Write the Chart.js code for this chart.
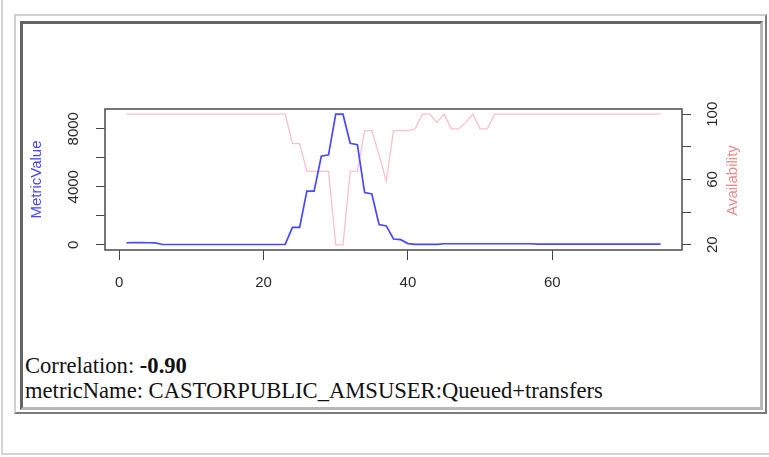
<!DOCTYPE html>
<html>
<head>
<meta charset="utf-8">
<script src="https://cdn.jsdelivr.net/npm/chart.js@4"></script>
<style>
  body { margin: 0; background: #fff; width: 769px; height: 457px; overflow: hidden; position: relative; }
  #frame { position: absolute; left: 1px; top: -6px; width: 800px; height: 461px; border: 2px solid #d4d4d4; box-sizing: border-box; }
  #tbl { position: absolute; left: 14px; top: 14px; width: 753px; height: 400px; border: 2px outset #d0d0d0; box-sizing: border-box; }
  #cell { position: absolute; left: 20px; top: 21px; width: 743px; height: 389px; border: 3px inset #b8b8b8; box-sizing: border-box; }
  #cv { position: absolute; left: 0; top: 0; }
  #info { position: absolute; left: 25px; top: 353px; font-family: "Liberation Serif", "Times New Roman", serif; font-size: 22.6px; line-height: 25px; color: #111; white-space: nowrap; }
</style>
</head>
<body>
<div id="frame"></div>
<div id="tbl"></div>
<div id="cell"></div>
<canvas id="cv" width="769" height="340"></canvas>
<div id="info">Correlation: <b>-0.90</b><br>metricName: CASTORPUBLIC_AMSUSER:Queued+transfers</div>
<script>
window.onload = inicializar;

// datos
var indices = [1,2,3,4,5,6,7,8,9,10,11,12,13,14,15,16,17,18,19,20,21,22,23,24,25,
  26,27,28,29,30,31,32,33,34,35,36,37,38,39,40,41,42,43,44,45,46,47,48,49,50,
  51,52,53,54,55,56,57,58,59,60,61,62,63,64,65,66,67,68,69,70,71,72,73,74,75];
var metricValue = [140,150,150,140,130,20,20,20,20,20,20,20,20,20,20,20,20,20,20,20,20,20,30,1200,1200,
  3700,3700,6100,6200,9000,9000,7000,6900,3600,3500,1400,1300,400,350,80,30,30,30,30,70,70,70,70,70,70,
  70,70,70,70,70,70,70,40,40,40,40,40,40,40,40,40,40,40,40,40,40,40,40,40,40];
var availability = [100,100,100,100,100,100,100,100,100,100,100,100,100,100,100,100,100,100,100,100,100,100,100,82,82,
  65,65,65,65,20,20,65,65,90,90,75,59,90,90,90,91,100,100,95,100,91,91,95,100,91,
  91,100,100,100,100,100,100,100,100,100,100,100,100,100,100,100,100,100,100,100,100,100,100,100,100];
var xTicks = [0, 20, 40, 60];
var metricTicks = [0, 2000, 4000, 6000, 8000];
var metricLabels = [0, 4000, 8000];
var availTicks = [20, 40, 60, 80, 100];
var availLabels = [20, 60, 100];

function inicializar() {
  var puntosMetric = indices.map(function (x, i) { return {x: x, y: metricValue[i]}; });
  var puntosAvail = indices.map(function (x, i) { return {x: x, y: availability[i]}; });

  var fijarTicks = function (lista) {
    return function (scale) { scale.ticks = lista.map(function (v) { return {value: v}; }); };
  };

  // textos de los ejes y caja, estilo R
  var textosR = {
    id: 'textosR',
    afterDraw: function (chart) {
      var ctx = chart.ctx, area = chart.chartArea;
      var yl = chart.scales.yMetric, yr = chart.scales.yAvail;
      ctx.save();
      ctx.strokeStyle = '#555';
      ctx.lineWidth = 1.6;
      ctx.strokeRect(area.left, area.top, area.right - area.left, area.bottom - area.top);

      ctx.textAlign = 'center';
      ctx.textBaseline = 'middle';
      ctx.font = '15px "Liberation Sans", Arial, sans-serif';
      ctx.fillStyle = '#2a2a2a';
      metricLabels.forEach(function (v) {
        ctx.save();
        ctx.translate(area.left - 31, yl.getPixelForValue(v));
        ctx.rotate(-Math.PI / 2);
        ctx.fillText(String(v), 0, 0);
        ctx.restore();
      });
      availLabels.forEach(function (v) {
        ctx.save();
        ctx.translate(area.right + 31, yr.getPixelForValue(v));
        ctx.rotate(-Math.PI / 2);
        ctx.fillText(String(v), 0, 0);
        ctx.restore();
      });
      var medio = (area.top + area.bottom) / 2;
      ctx.font = '15px "Liberation Sans", Arial, sans-serif';
      ctx.fillStyle = '#4646ff';
      ctx.save();
      ctx.translate(area.left - 68, medio);
      ctx.rotate(-Math.PI / 2);
      ctx.fillText('MetricValue', 0, 0);
      ctx.restore();
      ctx.fillStyle = '#f08a8a';
      ctx.save();
      ctx.translate(area.right + 51, medio + 1);
      ctx.rotate(-Math.PI / 2);
      ctx.fillText('Availability', 0, 0);
      ctx.restore();
      ctx.restore();
    }
  };

  new Chart(document.getElementById('cv'), {
    type: 'line',
    data: {
      datasets: [
        {
          label: 'MetricValue',
          data: puntosMetric,
          yAxisID: 'yMetric',
          borderColor: '#4848ff',
          borderWidth: 1.7,
          pointRadius: 0,
          tension: 0,
          fill: false
        },
        {
          label: 'Availability',
          data: puntosAvail,
          yAxisID: 'yAvail',
          borderColor: '#ffc0c8',
          borderWidth: 1.3,
          pointRadius: 0,
          tension: 0,
          fill: false
        }
      ]
    },
    options: {
      responsive: false,
      animation: false,
      devicePixelRatio: 1,
      layout: { padding: { top: 109, left: 0, right: 0, bottom: 0 } },
      plugins: { legend: { display: false }, tooltip: { enabled: false }, title: { display: false } },
      events: [],
      scales: {
        x: {
          type: 'linear',
          position: 'bottom',
          min: -1.96,
          max: 77.96,
          afterBuildTicks: fijarTicks(xTicks),
          afterFit: function (s) { s.height = 90; },
          border: { display: false },
          grid: { drawOnChartArea: false, tickLength: 10, color: '#444', lineWidth: 1 },
          ticks: {
            color: '#2a2a2a',
            padding: 14,
            maxRotation: 0,
            font: { family: '"Liberation Sans", Arial, sans-serif', size: 15 },
            callback: function (v) { return String(v); }
          }
        },
        yMetric: {
          type: 'linear',
          position: 'left',
          min: -360,
          max: 9360,
          afterBuildTicks: fijarTicks(metricTicks),
          afterFit: function (s) { s.width = 105; },
          border: { display: false },
          grid: { drawOnChartArea: false, tickLength: 9, color: '#444', lineWidth: 1 },
          ticks: { display: false }
        },
        yAvail: {
          type: 'linear',
          position: 'right',
          min: 16.8,
          max: 103.2,
          afterBuildTicks: fijarTicks(availTicks),
          afterFit: function (s) { s.width = 87; },
          border: { display: false },
          grid: { drawOnChartArea: false, tickLength: 9, color: '#444', lineWidth: 1 },
          ticks: { display: false }
        }
      }
    },
    plugins: [textosR]
  });
}
</script>
</body>
</html>
